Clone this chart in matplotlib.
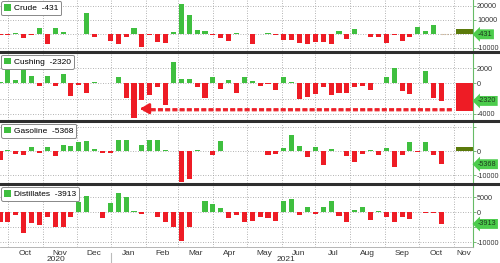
import pandas as pd
import matplotlib
matplotlib.use("Agg")
from matplotlib import pyplot as plt
from matplotlib.patches import Patch
from matplotlib.lines import Line2D
import matplotlib.dates as mdates

plt.rcParams['font.family'] = ['Liberation Sans', 'DejaVu Sans']

# weekly inventory changes (thousand barrels)
weeks = pd.date_range('2020-09-24', periods=57, freq='7D')

crude = [-1200, -1200, 200, -3100, -700, 4300, -7500, 4300, 1000, -500,
         -500, 15200, -2400, -200, -5300, -7500, -2650, 4300, -9600, -700,
         -6300, -7000, 1400, 21400, 13700, 2400, 1700, -700, -3100, -5300,
         500, -200, -7200, -300, 700, -800, -4600, -4600, -6500, -7200,
         -6300, -6300, -7200, 2200, -3600, 3600, -200, -2650, -2400, -6500,
         -1200, -5500, -2650, 5000, 2200, 6300, -431]

cushing = [200, 1900, 530, 1900, 980, -310, 980, -360, 1240, -1640,
           -220, -1240, 220, 50, 0, 890, -1900, -4570, -2220, -1550,
           -530, -2890, 2890, 580, 580, -530, -1900, 800, -670, 440,
           -1240, 800, 300, -360, -50, -890, 800, 150, -2000, -1780,
           -1420, -530, -1550, -1240, -1200, -440, -360, -890, 100, 800,
           2000, -1020, -1420, 100, 1640, -1900, -2320]

gasoline = [-3500, 700, -1100, -1400, 1800, -700, 1800, -1800, 2800, 2400,
            3750, 4200, 1000, -700, -700, 4600, 4600, 100, 2800, 4600,
            4600, 400, 100, -12900, -11500, 400, 200, -1400, 4200, 300,
            200, 200, 200, 100, -1400, -1100, 1400, 7000, 2100, -2500,
            1700, -5600, 1000, 100, -1800, -4600, -1000, 600, -1700, 1400,
            -6700, -1400, 3750, -100, 3750, -1400, -5368]

distillates = [-3100, -3100, -900, -7000, -3700, -4200, -1450, -5000, -5000, -1450,
               3300, 5400, 100, -2000, 3200, 6500, 5000, 550, -650, 0,
               -1450, -3400, -4800, -9500, -5100, 100, 3900, 2800, 1550, -2000,
               -900, -3100, -2800, -1650, -2000, -2800, 3900, 4400, -900, 1900,
               -650, 1650, 3650, -1200, -3100, 800, 1900, -2550, 550, -1450,
               -3100, -1450, -2300, 200, -200, -100, -3913]

names = ['Crude', 'Cushing', 'Gasoline', 'Distillates']
series = [crude, cushing, gasoline, distillates]
# wide "latest" bars drawn at the right edge
latest = [3500, -3600, 2000, None]
latest_colors = ['#5b7a0a', '#ee1c25', '#5b7a0a', None]

GREEN = '#3fbf3f'
RED = '#ee1c25'

x0 = pd.Timestamp('2020-09-24')
x1 = pd.Timestamp('2021-11-18')

fig = plt.figure(figsize=(5, 2.63), dpi=100)

# panel boxes in figure fraction: (bottom, top)
boxes = [(0.806, 1.0), (0.5456, 0.7966), (0.3042, 0.5342), (0.0608, 0.2928)]
ylims = [(-12500, 24300), (-4790, 3990), (-13200, 12000), (-11660, 8840)]
yticks = [[-10000, 0, 10000, 20000], [-4000, -2000, 0, 2000],
          [-10000, 0, 10000], [-10000, -5000, 0, 5000]]
ylabels = [['-10000', '', '10000', '20000'], ['-4000', '', '0', '2000'],
           ['-10000', '0', ''], ['-10000', '', '0', '5000']]

month_starts = pd.date_range('2020-10-01', '2021-11-01', freq='MS')
month_mids = []
month_names = []
for m in month_starts:
    end = min(m + pd.offsets.MonthBegin(1), x1)
    month_mids.append(m + (end - m) / 2)
    month_names.append(m.strftime('%b'))

axes = []
for i, (name, vals) in enumerate(zip(names, series)):
    b, t = boxes[i]
    ax = fig.add_axes([0, b, 0.946, t - b])
    axes.append(ax)
    colors = [GREEN if v >= 0 else RED for v in vals]
    ax.bar(weeks, vals, width=4.5, color=colors, zorder=2)
    if latest[i] is not None:
        ax.bar(pd.Timestamp('2021-11-10 12:00'), latest[i], width=14.5,
               color=latest_colors[i], zorder=2)
    ax.set_xlim(x0, x1)
    ax.set_ylim(*ylims[i])
    ax.yaxis.tick_right()
    ax.set_yticks(yticks[i])
    ax.set_yticklabels(ylabels[i])
    ax.tick_params(axis='y', direction='out', length=2, width=0.6,
                   color='#66aa66', labelsize=5.2, pad=1, labelcolor='#333333')
    ax.set_xticks(month_starts)
    ax.tick_params(axis='x', which='both', length=0)
    ax.grid(True, which='major', linestyle=(0, (1, 2)), color='#9a9a9a',
            linewidth=0.6, zorder=0)
    for s in ['top', 'left', 'bottom']:
        ax.spines[s].set_visible(False)
    ax.spines['right'].set_color('#66bb66')
    ax.spines['right'].set_linewidth(0.8)
    if i < 3:
        ax.set_xticklabels([])
    # legend box
    leg = ax.legend(handles=[Patch(facecolor=GREEN, edgecolor='none')],
                    labels=['%s  %s' % (name, vals[-1])], loc='upper left',
                    fontsize=6, handlelength=0.8, handleheight=0.8,
                    handletextpad=0.4, borderpad=0.35, borderaxespad=0.15,
                    fancybox=True, framealpha=1)
    leg.get_frame().set_edgecolor('#888888')
    leg.get_frame().set_linewidth(0.7)
    # last value tag on the right axis
    ax.annotate(str(vals[-1]), xy=(1, vals[-1]), xycoords=ax.get_yaxis_transform(),
                xytext=(3.5, 0), textcoords='offset points', va='center', ha='left',
                fontsize=5.2, color='#1d3a1d', annotation_clip=False, zorder=5,
                bbox=dict(boxstyle='larrow,pad=0.2', fc='#4ccc4c', ec='none'))

# crude last-value line
axes[0].plot([weeks[-1], pd.Timestamp('2021-11-03')], [crude[-1], crude[-1]],
             linestyle=':', color='#c8a070', linewidth=0.8, zorder=1)

# red dashed arrow in the Cushing panel
axc = axes[1]
axc.plot([pd.Timestamp('2021-01-29'), pd.Timestamp('2021-10-30')], [-3480, -3480],
         color='#f4a6a6', linewidth=2, dashes=(1.8, 0.8), zorder=3)
axc.plot([pd.Timestamp('2021-01-29'), pd.Timestamp('2021-10-30')], [-3350, -3350],
         color=RED, linewidth=2, dashes=(1.8, 0.8), zorder=4)
axc.annotate('', xy=(pd.Timestamp('2021-01-24'), -3350),
             xytext=(pd.Timestamp('2021-02-02'), -3350),
             arrowprops=dict(arrowstyle='-|>,head_length=0.5,head_width=0.3',
                             color=RED, lw=2), zorder=4)

# bottom axis: month labels and years
ax4 = axes[3]
ax4.set_xticklabels([])
ax4.set_xticks(month_mids, minor=True)
ax4.set_xticklabels(month_names, minor=True)
ax4.tick_params(axis='x', which='minor', labelsize=6, pad=2, labelcolor='#333333')
ax4.spines['bottom'].set_visible(True)
ax4.spines['bottom'].set_color('#aaaaaa')
ax4.spines['bottom'].set_linewidth(0.6)
ax4.text(pd.Timestamp('2020-11-13'), -0.205, '2020', transform=ax4.get_xaxis_transform(),
         ha='center', va='center', fontsize=6, color='#333333')
ax4.text(pd.Timestamp('2021-06-05'), -0.205, '2021', transform=ax4.get_xaxis_transform(),
         ha='center', va='center', fontsize=6, color='#333333')
ax4.plot([pd.Timestamp('2021-01-01')] * 2, [-0.1, -0.27], transform=ax4.get_xaxis_transform(),
         color='#bbbbbb', linewidth=0.8, clip_on=False)

# thick panel separators
for y in [0.8023, 0.5399, 0.2985]:
    fig.add_artist(Line2D([0, 1], [y, y], transform=fig.transFigure,
                          color='#2e2e2e', linewidth=2.2))

plt.savefig('out.png', dpi=100)
